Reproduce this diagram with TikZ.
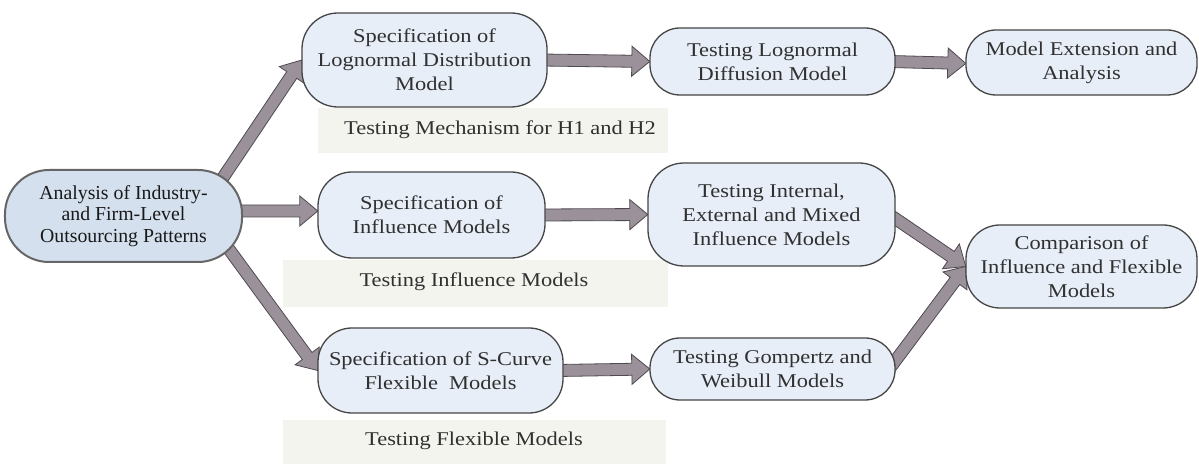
\documentclass[tikz,border=0pt]{standalone}
\usepackage{fontspec}
\setmainfont{Liberation Serif}
\newfontfamily\boxfont{Liberation Serif}[FakeStretch=1.15]
\usetikzlibrary{calc}
\definecolor{nodefill}{HTML}{E8EEF8}
\definecolor{startfill}{HTML}{D5E0EE}
\definecolor{nodeline}{HTML}{454545}
\definecolor{startline}{HTML}{666666}
\definecolor{txt}{HTML}{303030}
\definecolor{bandfill}{HTML}{F4F4EE}
\definecolor{arrowfill}{HTML}{9B919B}
\definecolor{arrowline}{HTML}{4F4A4F}
\tikzset{
  procbox/.style={draw=nodeline, fill=nodefill, line width=1.3bp, rounded corners=30bp,
    align=center, inner sep=0pt, text=txt,
    font=\boxfont\fontsize{19.5bp}{24bp}\selectfont},
  startbox/.style={draw=startline, fill=startfill, line width=2bp, rounded corners=44bp,
    align=center, inner sep=0pt, text=black!90,
    font=\fontsize{19.8bp}{21.5bp}\selectfont},
  bandbox/.style={fill=bandfill, draw=none, inner sep=0pt},
  bandtext/.style={text=txt, inner sep=0pt, font=\boxfont\fontsize{19.5bp}{24bp}\selectfont},
}
\newcommand\blockarrow[2]{%
  \filldraw[fill=arrowfill, draw=arrowline, line width=0.8bp, line join=miter]
  let \p1=(#1), \p2=(#2), \n1={atan2(\y2-\y1,\x2-\x1)}, \n2={veclen(\x2-\x1,\y2-\y1)} in
  ($(\p1)+(\n1+90:6bp)$) -- ($(\p1)+(\n1:\n2-18bp)+(\n1+90:6bp)$)
  -- ($(\p1)+(\n1:\n2-18bp)+(\n1+90:15bp)$) -- (\p2)
  -- ($(\p1)+(\n1:\n2-18bp)+(\n1-90:15bp)$) -- ($(\p1)+(\n1:\n2-18bp)+(\n1-90:6bp)$)
  -- ($(\p1)+(\n1-90:6bp)$) -- cycle;}
\begin{document}
\begin{tikzpicture}[x=1bp,y=-1bp]
\useasboundingbox[fill=white] (0,0) rectangle (1199,464);
% bands
\node[bandbox, minimum width=350bp, minimum height=45bp] (band1) at (493,130.5) {};
\node[bandbox, minimum width=385bp, minimum height=47bp] (band2) at (475.5,283.5) {};
\node[bandbox, minimum width=383bp, minimum height=44bp] (band3) at (474.5,442) {};
\node[bandtext] (t1) at (500,130) {Testing Mechanism for H1 and H2};
\node[bandtext] (t2) at (474,282) {Testing Influence Models};
\node[bandtext] (t3) at (474,441) {Testing Flexible Models};
% node positions (named first so arrows can run behind the boxes)
\path[draw=none, fill=none]
  (123.5,216) node[minimum width=237bp, minimum height=92bp, inner sep=0pt] (A) {}
  (424.5,60) node[minimum width=245bp, minimum height=94bp, inner sep=0pt] (B1) {}
  (772.5,61.5) node[minimum width=245bp, minimum height=67bp, inner sep=0pt] (B2) {}
  (1081.5,62.5) node[minimum width=231bp, minimum height=65bp, inner sep=0pt] (B3) {}
  (431.5,215) node[minimum width=227bp, minimum height=86bp, inner sep=0pt] (C1) {}
  (771.5,214.5) node[minimum width=247bp, minimum height=103bp, inner sep=0pt] (C2) {}
  (1081.5,266.5) node[minimum width=231bp, minimum height=83bp, inner sep=0pt] (C3) {}
  (440.5,370.5) node[minimum width=245bp, minimum height=85bp, inner sep=0pt] (D1) {}
  (772.5,369) node[minimum width=245bp, minimum height=62bp, inner sep=0pt] (D2) {};
% arrows
\blockarrow{$(A.north east)+(-22,12)$}{B1.west}
\blockarrow{$(A.east)+(-10,-5)$}{$(C1.west)+(0,-4)$}
\blockarrow{$(A.south east)+(-14,-14)$}{D1.west}
\blockarrow{$(B1.east)+(-5,0)$}{B2.west}
\blockarrow{$(B2.east)+(-5,0)$}{$(B3.west)+(0,1)$}
\blockarrow{$(C1.east)+(-5,0)$}{C2.west}
\blockarrow{$(D1.east)+(-5,0)$}{D2.west}
\blockarrow{$(C2.east)+(-6,0)$}{C3.west}
\blockarrow{$(D2.east)+(-6,0)$}{C3.west}
% boxes drawn over the arrow tails
\node[startbox, minimum width=237bp, minimum height=92bp] at (A)
  {Analysis of Industry-\\and Firm-Level\\Outsourcing Patterns};
\node[procbox, minimum width=245bp, minimum height=94bp, rounded corners=36bp] at (B1)
  {Specification of\\Lognormal Distribution\\Model};
\node[procbox, minimum width=245bp, minimum height=67bp] at (B2)
  {Testing Lognormal\\Diffusion Model};
\node[procbox, minimum width=231bp, minimum height=65bp] at (B3)
  {Model Extension and\\Analysis};
\node[procbox, minimum width=227bp, minimum height=86bp, rounded corners=34bp] at (C1)
  {Specification of\\Influence Models};
\node[procbox, minimum width=247bp, minimum height=103bp, rounded corners=36bp] at (C2)
  {Testing Internal,\\External and Mixed\\Influence Models};
\node[procbox, minimum width=231bp, minimum height=83bp, rounded corners=34bp] at (C3)
  {Comparison of\\Influence and Flexible\\Models};
\node[procbox, minimum width=245bp, minimum height=85bp, rounded corners=34bp] at (D1)
  {Specification of S-Curve\\Flexible\ \ Models};
\node[procbox, minimum width=245bp, minimum height=62bp] at (D2)
  {Testing Gompertz and\\Weibull Models};
\end{tikzpicture}
\end{document}
